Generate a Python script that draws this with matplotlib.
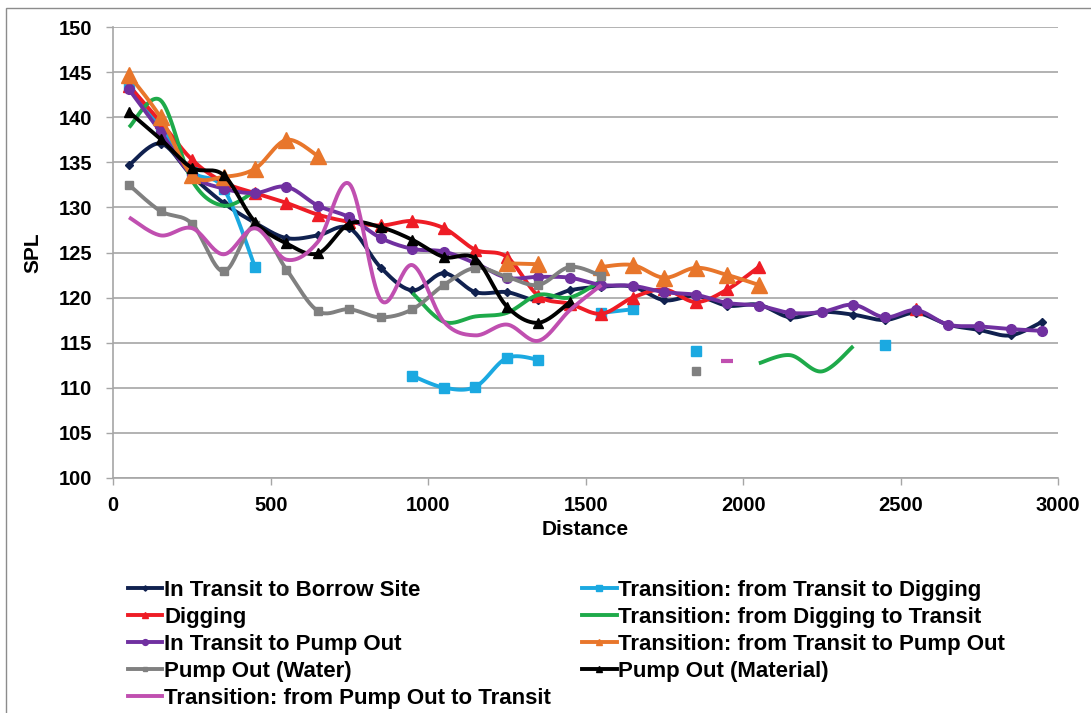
import numpy as np
import matplotlib
matplotlib.use("Agg")
import matplotlib.pyplot as plt
from matplotlib.lines import Line2D
from matplotlib.patches import Rectangle

N = None
distance = [50, 150, 250, 350, 450, 550, 650, 750, 850, 950,
            1050, 1150, 1250, 1350, 1450, 1550, 1650, 1750, 1850, 1950,
            2050, 2150, 2250, 2350, 2450, 2550, 2650, 2750, 2850, 2950]

borrow = [134.7, 137.1, 133.5, 130.5, 128.3, 126.6, 126.9, 127.7, 123.3, 120.8,
          122.7, 120.6, 120.6, 119.7, 120.8, 121.2, 121.2, 119.7, 120.2, 119.1,
          119.2, 117.8, 118.4, 118.1, 117.5, 118.3, 117.0, 116.4, 115.8, 117.3]
trans_dig = [143.6, 139.0, 134.0, 132.1, 123.4, N, N, N, N, 111.3,
             110.0, 110.1, 113.3, 113.1, N, 118.3, 118.7, N, 114.1, N,
             N, N, N, N, 114.7]
digging = [143.5, 139.5, 135.3, 132.8, 131.6, 130.5, 129.2, 128.4, 128.0, 128.5,
           127.7, 125.3, 124.5, 120.2, 119.3, 118.2, 120.0, 120.9, 119.5, 120.9,
           123.4, N, N, N, N, 118.7]
dig_trans = [138.9, 141.9, 133.0, 130.2, 131.8, N, N, N, N, 120.5,
             117.3, 117.9, 118.3, 120.3, 120.0, 121.9, N, N, N, N,
             112.7, 113.6, 111.8, 114.6]
to_pump = [143.1, 138.4, 133.6, 132.1, 131.6, 132.3, 130.2, 128.9, 126.6, 125.4,
           125.1, 123.8, 122.2, 122.3, 122.2, 121.4, 121.3, 120.6, 120.3, 119.4,
           119.1, 118.3, 118.4, 119.2, 117.8, 118.6, 117.0, 116.8, 116.5, 116.3]
trans_pump = [144.7, 140.0, 133.6, 133.4, 134.3, 137.5, 135.7, N, N, N,
              N, N, 123.8, 123.7, N, 123.4, 123.6, 122.2, 123.3, 122.5,
              121.4]
water = [132.5, 129.6, 128.2, 122.9, 128.0, 123.1, 118.5, 118.7, 117.8, 118.7,
         121.4, 123.3, 122.3, 121.4, 123.4, 122.4, N, N, 111.9]
material = [140.6, 137.6, 134.4, 133.6, 128.4, 126.0, 124.9, 128.2, 127.8, 126.4,
            124.5, 124.3, 119.0, 117.2, 119.5]
pump_trans = [128.9, 126.9, 127.7, 124.8, 127.7, 124.2, 126.2, 132.6, 119.7, 123.6,
              117.3, 115.8, 117.0, 115.2, 118.6, 121.4, N, N, N, 112.9]

# label, values, colour, marker, marker size
series = [
    ("In Transit to Borrow Site", borrow, "#10214f", "D", 4.5),
    ("Transition: from Transit to Digging", trans_dig, "#1ba9e1", "s", 7.5),
    ("Digging", digging, "#ee1c25", "^", 8),
    ("Transition: from Digging to Transit", dig_trans, "#1eaa4a", None, 0),
    ("In Transit to Pump Out", to_pump, "#7030a0", "o", 7),
    ("Transition: from Transit to Pump Out", trans_pump, "#e8762b", "^", 11),
    ("Pump Out (Water)", water, "#808080", "s", 6),
    ("Pump Out (Material)", material, "#000000", "^", 7),
    ("Transition: from Pump Out to Transit", pump_trans, "#c04fb0", None, 0),
]


def smooth(px, py, n=24):
    # excel-like smoothed line (catmull-rom as bezier)
    p = np.column_stack([px, py]).astype(float)
    out = [p[0]]
    t = np.linspace(0, 1, n)[1:, None]
    for i in range(len(p) - 1):
        p0 = p[i - 1] if i > 0 else p[i]
        p1 = p[i]
        p2 = p[i + 1]
        p3 = p[i + 2] if i + 2 < len(p) else p[i + 1]
        c1 = p1 + (p2 - p0) / 6
        c2 = p2 - (p3 - p1) / 6
        seg = ((1 - t) ** 3) * p1 + 3 * ((1 - t) ** 2) * t * c1 + 3 * (1 - t) * t ** 2 * c2 + t ** 3 * p2
        out.extend(seg)
    out = np.array(out)
    return out[:, 0], out[:, 1]


def runs(vals):
    xs, ys = [], []
    for x, v in zip(distance, vals):
        if v is None:
            if xs:
                yield xs, ys
            xs, ys = [], []
        else:
            xs.append(x)
            ys.append(v)
    if xs:
        yield xs, ys


plt.rcParams['font.family'] = ['Liberation Sans', 'DejaVu Sans']
plt.rcParams['font.weight'] = 'bold'

fig = plt.figure(figsize=(10.91, 7.13), dpi=100)
fig.patches.append(Rectangle((6 / 1091, -0.1), 1.2, 1 - 8 / 713 + 0.1, transform=fig.transFigure,
                             fill=False, edgecolor="#8c8c8c", lw=1.0))
ax = fig.add_axes([113.3 / 1091, 1 - 477.7 / 713, (1058 - 113.3) / 1091, (477.7 - 27.3) / 713])

lw = 2.8
handles = {}
for k, (label, vals, col, mk, ms) in enumerate(series):
    for xs, ys in runs(vals):
        if len(xs) > 1:
            sx, sy = smooth(xs, ys)
            ax.plot(sx, sy, color=col, lw=lw, zorder=3 + k, solid_capstyle="butt")
            if mk:
                ax.plot(xs, ys, ls="none", marker=mk, ms=ms, color=col, zorder=3 + k)
        else:
            if mk:
                ax.plot(xs, ys, ls="none", marker=mk, ms=ms, color=col, zorder=3 + k)
            else:
                ax.plot(xs, ys, ls="none", marker="_", ms=9, mew=3, color=col, zorder=3 + k)
    handles[label] = Line2D([], [], color=col, lw=lw, marker=mk if mk else None,
                            ms=min(ms * 0.6, 5) if mk else 0)

ax.set_xlim(0, 3000)
ax.set_ylim(100, 150)
ax.set_xticks(range(0, 3001, 500))
ax.set_yticks(range(100, 151, 5))
ax.grid(axis="y", color="#a6a6a6", lw=1.2)
ax.set_axisbelow(True)
for s in ["top", "right"]:
    ax.spines[s].set_visible(False)
for s in ["left", "bottom"]:
    ax.spines[s].set_color("#a6a6a6")
    ax.spines[s].set_linewidth(1.2)
ax.tick_params(axis="both", colors="#a6a6a6", labelcolor="black", labelsize=14.5,
               length=5, width=1.0, direction="out")
ax.tick_params(axis="y", pad=10)
ax.tick_params(axis="x", pad=8)
ax.set_xlabel("Distance", fontsize=15, fontweight="bold", labelpad=4)
ax.set_ylabel("SPL", fontsize=15, fontweight="bold", labelpad=12)

order = [0, 2, 4, 6, 8, 1, 3, 5, 7]
leg = fig.legend([handles[series[i][0]] for i in order], [series[i][0] for i in order],
                 ncol=2, loc="upper left", bbox_to_anchor=(128 / 1091, 1 - 580 / 713),
                 frameon=False, fontsize=16, handlelength=1.55, handletextpad=0.08,
                 labelspacing=0.27, columnspacing=1.4, borderaxespad=0, borderpad=0)

fig.savefig("out.png", dpi=100)
